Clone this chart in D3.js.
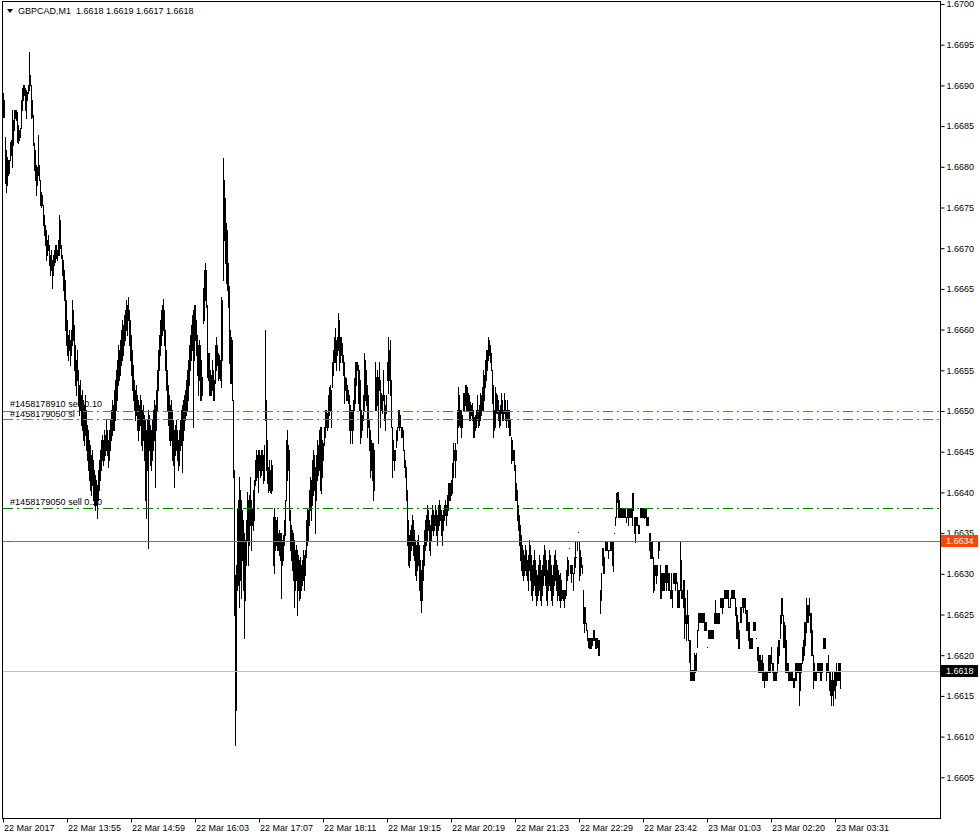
<!DOCTYPE html>
<html><head><meta charset="utf-8">
<script src="https://cdn.jsdelivr.net/npm/d3@7"></script>
<style>
body{margin:0;background:#fff}
svg{display:block}
text{font-family:"Liberation Sans",Arial,sans-serif;font-size:9px;fill:#000}
</style>
</head><body>
<svg id="chart" width="980" height="839"></svg>
<script>
// prices are stored as points above BASE (1 point = 0.00001)
const BASE = 1.66, POINT = 0.00001;
const symbolTitle = "GBPCAD,M1  1.6618 1.6619 1.6617 1.6618";
const highs = [
891,882,837,821,812,808,808,830,833,870,
858,870,870,870,867,851,845,848,882,897,
900,900,897,894,892,900,941,913,900,882,
864,829,821,802,800,839,802,784,769,765,
753,741,729,722,710,716,704,692,698,686,
692,698,704,704,698,710,741,735,704,692,
686,673,661,636,612,593,600,587,600,636,
624,606,581,563,575,550,532,538,520,526,
514,507,520,501,483,477,464,458,446,452,
440,428,421,415,409,428,440,452,464,471,
464,477,471,489,477,464,477,489,501,514,
507,526,538,550,563,581,575,587,600,612,
606,618,624,636,630,640,624,612,593,575,
557,538,526,532,520,514,507,520,514,501,
507,495,489,477,489,501,495,483,477,489,
501,514,507,526,550,575,593,612,624,630,
638,624,600,575,550,532,520,507,514,501,
489,477,483,489,477,464,477,489,501,507,
514,520,526,538,550,563,581,593,606,618,
624,630,630,612,593,581,587,581,563,542,
651,673,682,673,630,571,571,550,544,563,
550,538,581,591,581,571,569,563,640,636,
811,784,762,731,722,682,653,600,591,587,
514,428,299,311,381,391,419,403,391,378,
366,350,342,366,400,391,397,419,391,381,
403,415,440,452,446,452,452,446,452,452,
446,458,600,514,464,431,440,428,440,434,
370,381,370,366,370,350,354,350,350,342,
348,366,391,464,477,458,452,378,360,354,
350,342,329,335,329,323,317,321,311,317,
329,323,329,366,381,378,403,419,415,440,
452,446,431,446,464,458,477,480,480,464,
461,480,501,501,498,520,529,532,526,560,
575,591,602,587,591,620,612,591,591,584,
569,560,542,540,532,526,520,507,501,501,
514,540,560,560,560,557,550,538,501,495,
520,571,563,550,532,520,489,477,464,461,
461,452,560,542,550,542,560,538,522,520,
550,520,507,520,560,591,575,587,538,480,
464,452,452,477,480,501,501,495,480,480,
477,452,440,431,403,366,348,354,360,372,
366,354,342,335,342,348,335,317,305,317,
335,354,366,372,385,378,366,360,372,385,
378,372,385,378,372,385,391,385,378,372,
378,385,391,385,397,412,412,412,415,436,
461,452,461,452,501,529,520,501,501,495,
522,522,532,532,529,522,520,511,507,510,
501,493,495,501,520,501,507,522,520,529,
550,544,563,575,575,591,587,581,571,550,
532,501,529,522,520,514,501,507,522,514,
501,522,514,501,514,501,501,489,468,464,
452,452,434,412,403,385,372,360,348,335,
329,323,335,329,317,323,342,335,323,311,
317,329,317,305,299,311,323,317,305,311,
323,335,329,317,305,317,329,323,311,299,
311,323,329,317,311,305,299,301,292,280,
280,280,280,305,321,317,332,311,311,311,
301,321,339,321,339,351,339,329,321,311,
280,259,259,240,231,221,221,221,221,221,
231,231,221,221,221,219,219,280,301,332,
332,321,339,339,339,329,329,339,339,339,
339,350,370,399,400,400,391,381,381,381,
381,381,381,370,381,381,381,381,381,399,
399,370,370,370,370,360,360,381,381,381,
381,381,381,381,370,370,350,350,339,339,
321,311,311,311,311,339,339,311,301,301,
301,301,311,311,311,301,301,280,301,280,
301,301,301,301,290,280,280,339,317,280,
292,292,270,249,280,249,219,219,182,182,
182,203,200,203,231,252,252,252,252,252,
252,252,241,241,210,231,231,231,231,231,
231,252,268,252,252,252,252,270,270,270,
270,280,280,280,280,280,259,270,280,280,
280,280,270,259,249,241,231,259,259,270,
270,270,270,256,256,241,241,221,221,221,
241,241,241,221,210,210,200,200,194,200,
190,179,179,179,179,200,200,200,210,190,
190,179,179,179,210,219,219,249,270,270,
249,241,237,219,190,190,179,179,179,179,
172,172,190,190,190,190,190,190,190,210,
219,241,241,270,262,262,270,252,252,231,
200,190,179,179,190,190,190,190,190,190,
221,221,221,190,190,200,179,179,170,179,
170,179,179,190,179,190,190,190
];
const lows = [
861,861,780,769,778,790,792,808,815,800,
827,845,860,858,830,829,833,836,848,870,
882,888,870,860,882,891,894,900,860,861,
827,796,784,765,778,790,784,753,751,753,
729,716,704,686,692,698,679,667,673,651,
667,679,683,688,686,692,692,700,688,667,
649,636,600,581,569,563,575,557,569,581,
587,550,532,520,538,507,495,501,483,477,
464,458,471,452,440,428,415,403,397,409,
391,385,378,385,369,391,403,415,428,440,
434,440,446,452,446,431,440,452,464,471,
477,477,489,501,514,532,538,544,557,563,
569,581,587,600,593,612,581,563,544,526,
514,501,489,495,477,464,477,483,458,452,
464,440,391,369,428,332,452,434,428,440,
452,464,407,477,501,526,550,569,581,593,
600,581,550,526,501,483,464,458,464,440,
434,407,446,452,440,428,434,452,458,425,
464,477,489,495,501,514,532,550,563,575,
480,563,587,569,544,520,538,514,514,520,
608,612,636,628,542,538,520,520,520,526,
514,514,534,550,557,538,540,538,529,563,
661,710,682,657,649,628,559,534,534,514,
419,249,90,133,280,286,259,292,270,317,
280,221,268,311,342,311,335,360,329,360,
354,366,409,415,419,400,428,419,421,428,
412,415,489,428,412,400,403,400,399,403,
311,301,329,335,329,329,323,317,270,311,
317,335,348,391,415,428,366,329,317,305,
292,259,280,292,249,280,268,270,280,286,
292,280,299,321,335,342,360,378,366,385,
397,403,350,391,415,421,428,403,399,419,
440,458,468,480,477,480,495,501,480,529,
544,560,560,550,569,575,550,560,569,560,
544,510,526,514,514,510,477,461,477,461,
477,501,510,532,550,510,501,461,468,477,
489,501,514,507,468,480,452,419,428,415,
391,403,501,501,507,461,526,480,501,498,
514,489,477,498,538,522,538,520,480,419,
440,428,440,456,464,480,477,480,468,468,
452,431,419,391,335,311,308,317,329,335,
323,317,299,292,305,311,280,268,253,268,
292,311,329,335,342,354,329,323,342,354,
348,354,360,348,335,354,360,366,348,335,
354,366,372,360,372,378,391,391,397,399,
419,440,419,440,461,480,483,480,468,480,
501,501,507,501,501,501,489,489,495,489,
468,468,477,480,489,480,483,489,495,501,
501,514,529,538,550,563,569,560,550,510,
468,477,480,498,498,489,480,483,498,489,
489,498,489,480,489,480,471,471,436,440,
440,428,391,391,366,354,335,317,305,299,
292,299,305,299,292,280,305,292,274,268,
280,286,274,262,268,274,280,268,262,274,
286,299,286,268,262,280,286,280,268,262,
274,286,292,280,268,274,268,259,268,270,
268,259,270,274,292,299,332,301,290,301,
280,301,308,321,329,351,292,299,308,301,
240,229,240,231,219,210,209,209,209,213,
219,219,209,209,210,200,200,252,268,311,
301,301,329,329,329,320,329,329,329,311,
303,350,360,370,388,370,370,370,370,370,
370,370,370,364,370,360,370,370,370,360,
378,350,339,360,360,350,350,370,370,370,
370,369,370,360,360,360,329,320,320,320,
278,280,299,289,299,320,329,270,270,280,
280,280,290,280,290,280,280,270,270,259,
289,289,280,289,259,259,259,280,270,270,
259,221,240,219,240,219,192,170,170,170,
170,170,179,182,210,231,241,241,241,241,
241,231,231,231,210,221,221,221,221,221,
221,240,240,240,240,240,240,259,259,252,
259,270,270,270,270,259,259,259,270,270,
270,270,249,221,221,209,209,241,241,259,
253,259,252,231,231,219,209,209,209,209,
231,231,231,221,194,179,179,179,179,170,
170,161,170,170,170,179,179,179,190,179,
170,170,170,170,179,190,200,221,240,249,
210,210,179,179,179,170,170,170,170,170,
161,161,170,170,179,179,139,157,179,190,
194,200,213,229,241,241,249,229,200,200,
160,170,170,170,179,179,179,170,170,179,
209,209,209,170,179,179,157,151,139,151,
139,157,148,163,170,170,170,160
];
const timeLabels = ["22 Mar 2017","22 Mar 13:55","22 Mar 14:59","22 Mar 16:03","22 Mar 17:07",
  "22 Mar 18:11","22 Mar 19:15","22 Mar 20:19","22 Mar 21:23","22 Mar 22:29",
  "22 Mar 23:42","23 Mar 01:03","23 Mar 02:20","23 Mar 03:31"];
const timeLabelBars = [0,64,128,192,256,320,384,448,512,576,640,704,768,832];
const priceTicks = [1.6605,1.6610,1.6615,1.6620,1.6625,1.6630,1.6635,1.6640,1.6645,
  1.6650,1.6655,1.6660,1.6665,1.6670,1.6675,1.6680,1.6685,1.6690,1.6695,1.6700];
const orderLabels = ["#1458178910 sell 0.10","#1458179050 sl","#1458179050 sell 0.10"];
const orderPrices = [1.66500,1.66490,1.66381];
const orderColors = ["#ff4500","#ff4500","#008000"];
const levelPrices = [1.6634,1.6618];
const levelColors = ["#ff4500","#c0c0c0"];
const levelBoxColors = ["#ff4500","#000000"];

const PL = 2, PR = 940, PT = 1, PB = 818;
const svg = d3.select("#chart");
const n = highs.length;

const x = d3.scaleLinear().domain([0, n - 1]).range([3, 3 + n - 1]);
const y = d3.scaleLinear().domain([1.66, 1.67]).range([818, 4]);
const py = v => Math.round(y(v));

// frame
svg.append("rect").attr("x", PL + 0.5).attr("y", PT + 0.5)
  .attr("width", PR - PL).attr("height", PB - PT)
  .style("fill", "#fff").style("stroke", "#000").attr("shape-rendering", "crispEdges");

// order labels (drawn under bars)
const labelOffsets = [-4, -2, -3];
svg.append("g").selectAll("text").data(orderLabels).join("text")
  .attr("x", 10).attr("y", (d, i) => py(orderPrices[i]) + labelOffsets[i])
  .style("font-size", "9.1px").text(d => d);

// bars
const bars = d3.range(n).map(i => ({i, h: BASE + highs[i] * POINT, l: BASE + lows[i] * POINT}));
svg.append("g").attr("shape-rendering", "crispEdges").selectAll("rect").data(bars).join("rect")
  .attr("x", d => Math.round(x(d.i)))
  .attr("y", d => py(d.h))
  .attr("width", 1)
  .attr("height", d => Math.max(1, py(d.l) - py(d.h) + 1))
  .style("fill", "#000");

// level lines
svg.append("g").attr("shape-rendering", "crispEdges").selectAll("line").data(levelPrices).join("line")
  .attr("x1", PL + 1).attr("x2", PR)
  .attr("y1", d => py(d) + 0.5).attr("y2", d => py(d) + 0.5)
  .style("stroke", (d, i) => levelColors[i]).style("stroke-width", 1);

// order lines (dash-dot)
svg.append("g").attr("shape-rendering", "crispEdges").selectAll("line").data(orderPrices).join("line")
  .attr("x1", PL + 1).attr("x2", PR)
  .attr("y1", d => py(d) + 0.5).attr("y2", d => py(d) + 0.5)
  .style("stroke", (d, i) => orderColors[i]).style("stroke-width", 1)
  .style("stroke-dasharray", "10,4,2,4");

// right price axis
const yAxis = d3.axisRight(y).tickValues(priceTicks).tickFormat(d3.format(".4f"))
  .tickSize(4).tickPadding(2);
const ya = svg.append("g").attr("transform", `translate(${PR + 0.5},0)`).call(yAxis);
ya.select(".domain").remove();
ya.selectAll("line").style("stroke", "#000");
ya.selectAll("text").style("font-family", "Liberation Sans, Arial, sans-serif").style("font-size", "9px").style("fill", "#000");

// time axis
const xa = svg.append("g").attr("transform", `translate(0,${PB + 0.5})`);
xa.selectAll("line").data(timeLabelBars).join("line")
  .attr("x1", d => Math.round(x(d)) + 0.5).attr("x2", d => Math.round(x(d)) + 0.5)
  .attr("y1", 0).attr("y2", 4).style("stroke", "#000");
xa.selectAll("text").data(timeLabels).join("text")
  .attr("x", (d, i) => Math.round(x(timeLabelBars[i])) + 1)
  .attr("y", 12).text(d => d);

// price boxes
levelPrices.forEach((p, i) => {
  const cy = py(p);
  svg.append("rect").attr("x", 941).attr("y", cy - 6).attr("width", 37).attr("height", 12)
    .style("fill", levelBoxColors[i]);
  svg.append("text").attr("x", 946).attr("y", cy).attr("dy", "0.32em")
    .style("fill", "#fff").text(d3.format(".4f")(p));
});

// header
svg.append("path").attr("d", "M7,9 L13,9 L10,13 Z").style("fill", "#000");
svg.append("text").attr("x", 18).attr("y", 14).style("white-space", "pre")
  .attr("xml:space", "preserve").text(symbolTitle);
</script>
</body></html>
